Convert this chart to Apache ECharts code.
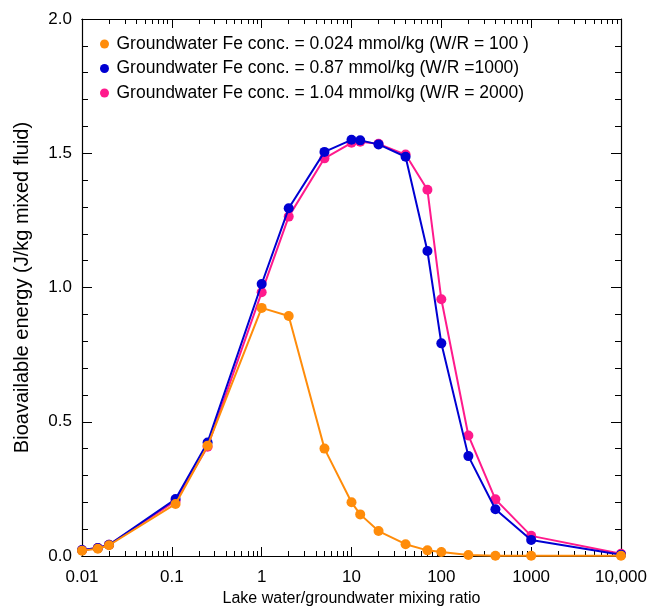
<!DOCTYPE html>
<html><head><meta charset="utf-8">
<script src="https://cdn.jsdelivr.net/npm/echarts@6/dist/echarts.min.js"></script>
<style>html,body{margin:0;padding:0;background:#fff}#c{width:647px;height:610px}</style>
</head><body><div id="c"></div>
<script>
var ratios = [0.01, 0.015, 0.02, 0.11, 0.25, 1, 2, 5, 10, 12.5, 20, 40, 70, 100, 200, 400, 1000, 10000];
var orangeVals = [0.02, 0.027, 0.04, 0.194, 0.411, 0.924, 0.894, 0.40, 0.20, 0.155, 0.093, 0.044, 0.021, 0.015, 0.004, 0.001, 0.001, 0.001];
var blueVals = [0.022, 0.03, 0.042, 0.212, 0.423, 1.013, 1.295, 1.505, 1.55, 1.548, 1.533, 1.487, 1.136, 0.792, 0.372, 0.174, 0.06, 0.005];
var pinkVals = [0.022, 0.03, 0.042, 0.205, 0.407, 0.982, 1.264, 1.481, 1.539, 1.543, 1.535, 1.495, 1.364, 0.956, 0.449, 0.211, 0.075, 0.008];
var seriesNames = [
  'Groundwater Fe conc. = 0.024 mmol/kg (W/R = 100 )',
  'Groundwater Fe conc. = 0.87 mmol/kg (W/R =1000)',
  'Groundwater Fe conc. = 1.04 mmol/kg (W/R = 2000)'
];
var xMajorTicks = [0.01, 0.1, 1, 10, 100, 1000, 10000];
var xTickLabels = ['0.01', '0.1', '1', '10', '100', '1000', '10,000'];
var yTicks = [0, 0.5, 1.0, 1.5, 2.0];

var colors = ['#ff8c0a', '#0000d2', '#ff1a8c'];
var minorX = [];
for (var i = 0; i < xMajorTicks.length - 1; i++) {
  for (var k = 2; k <= 9; k++) minorX.push(+(xMajorTicks[i] * k).toPrecision(6));
}
function pairs(vals) { return ratios.map(function (r, i) { return [r, vals[i]]; }); }

var font = 'Liberation Sans, Arial, sans-serif';
function xAx(pos, major, labels) {
  return {
    type: 'log', logBase: 10, min: 0.01, max: 10000, position: pos,
    axisLine: { show: true, onZero: false, lineStyle: { color: '#000', width: 1.2 } },
    axisTick: { show: true, inside: true, length: major ? 9 : 5, customValues: major ? xMajorTicks : minorX, lineStyle: { color: '#000', width: 1 } },
    axisLabel: labels ? {
      show: true, color: '#000', fontSize: 17, fontFamily: font, margin: 13,
      customValues: xMajorTicks,
      formatter: function (v) { var idx = xMajorTicks.findIndex(function (t) { return Math.abs(Math.log10(t) - Math.log10(v)) < 1e-6; }); return idx >= 0 ? xTickLabels[idx] : ''; }
    } : { show: false },
    splitLine: { show: false },
    name: labels ? 'Lake water/groundwater mixing ratio' : '',
    nameLocation: 'middle', nameGap: 35,
    nameTextStyle: { color: '#000', fontSize: 16, fontFamily: font }
  };
}
function yAx(pos, labels) {
  return {
    type: 'value', min: 0, max: 2, interval: 0.5, position: pos,
    axisLine: { show: true, onZero: false, lineStyle: { color: '#000', width: 1.2 } },
    axisTick: { show: true, inside: true, length: 10, lineStyle: { color: '#000', width: 1 } },
    minorTick: { show: true, splitNumber: 5, length: 6, lineStyle: { color: '#000', width: 1 } },
    axisLabel: labels ? { show: true, color: '#000', fontSize: 17, fontFamily: font, margin: 10, formatter: function (v) { return v.toFixed(1); } } : { show: false },
    splitLine: { show: false },
    name: labels ? 'Bioavailable energy (J/kg mixed fluid)' : '',
    nameLocation: 'middle', nameGap: 50,
    nameTextStyle: { color: '#000', fontSize: 20, fontFamily: font }
  };
}
var chart = echarts.init(document.getElementById('c'), null, { renderer: 'canvas' });
function ser(idx, vals, z) {
  return {
    name: seriesNames[idx], type: 'line', data: pairs(vals), xAxisIndex: 0, yAxisIndex: 0,
    symbol: 'circle', symbolSize: 10, showSymbol: true, z: z,
    lineStyle: { color: colors[idx], width: 2 }, itemStyle: { color: colors[idx] },
    emphasis: { disabled: true }, animation: false
  };
}
chart.setOption({
  animation: false,
  backgroundColor: '#fff',
  grid: { left: 82, right: 26, top: 19, bottom: 54, containLabel: false, outerBoundsMode: 'none' },
  xAxis: [xAx('bottom', true, true), xAx('bottom', false, false), xAx('top', true, false), xAx('top', false, false)],
  yAxis: [yAx('left', true), yAx('right', false)],
  legend: {
    data: seriesNames, orient: 'vertical', left: 95, top: 30, icon: 'circle',
    itemWidth: 14, itemHeight: 9, itemGap: 6.5,
    textStyle: { color: '#000', fontSize: 17.5, fontFamily: font }
  },
  series: [ser(2, pinkVals, 2), ser(1, blueVals, 3), ser(0, orangeVals, 4)]
});
</script></body></html>
